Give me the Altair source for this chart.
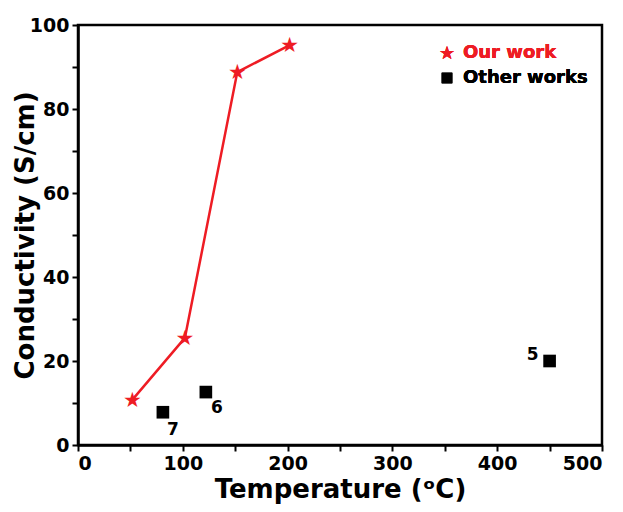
import altair as alt
import pandas as pd

our_temp = [52, 102, 152, 202]
our_cond = [10.8, 25.5, 88.8, 95.2]
other_temp = [81, 122, 450]
other_cond = [7.8, 12.6, 20.0]
other_ref = ["7", "6", "5"]
legend_labels = ["Our work", "Other works"]

RED = "#ee1c24"
FONT = "DejaVu Sans"

our = pd.DataFrame({"t": our_temp, "c": our_cond})
oth = pd.DataFrame({"t": other_temp, "c": other_cond, "ref": other_ref})

xs = alt.Scale(domain=[0, 500], nice=False)
ys = alt.Scale(domain=[0, 100], nice=False)

xax = alt.Axis(values=[0, 50, 100, 150, 200, 250, 300, 350, 400, 450, 500],
               labelExpr="datum.value % 100 == 0 ? datum.label : ''",
               title="Temperature (ᵒC)", grid=False, titlePadding=3)
yax = alt.Axis(values=[0, 10, 20, 30, 40, 50, 60, 70, 80, 90, 100],
               labelExpr="datum.value % 20 == 0 ? datum.label : ''",
               title="Conductivity (S/cm)", grid=False, titleFontSize=26, titleX=-40)

X = alt.X("t:Q", scale=xs, axis=xax)
Y = alt.Y("c:Q", scale=ys, axis=yax)

line = alt.Chart(our).mark_line(color=RED, strokeWidth=2.5).encode(x=X, y=Y)

stars = alt.Chart(our).mark_text(text="★", font=FONT, fontSize=21, color=RED,
                                 align="center", baseline="middle", dy=1).encode(x=X, y=Y)

squares = alt.Chart(oth).mark_square(color="black", size=160, opacity=1).encode(x=X, y=Y)

def lab(r, dx, dy):
    return alt.Chart(oth).transform_filter(alt.datum.ref == r).mark_text(
        font=FONT, fontSize=17, fontWeight="bold", color="black", dx=dx, dy=dy).encode(
        x=X, y=Y, text="ref:N")

leg_star = alt.Chart(our).mark_text(text="★", font=FONT, fontSize=18, color=RED,
                                    align="center", baseline="middle").encode(
    x=alt.value(369), y=alt.value(29))
leg_t1 = alt.Chart(our).mark_text(text=legend_labels[0], font=FONT, fontSize=18, fontWeight="bold",
                                  color=RED, align="left", baseline="middle").encode(
    x=alt.value(385), y=alt.value(28))
leg_sq = alt.Chart(our).mark_square(color="black", size=110, opacity=1).encode(
    x=alt.value(369), y=alt.value(53))
leg_t2 = alt.Chart(our).mark_text(text=legend_labels[1], font=FONT, fontSize=18, fontWeight="bold",
                                  color="black", align="left", baseline="middle").encode(
    x=alt.value(385), y=alt.value(53))

chart = alt.layer(
    line, stars, squares, lab("7", 10, 18), lab("6", 11, 16), lab("5", -17, -6),
    leg_star, leg_t1, leg_sq, leg_t2,
).properties(
    width=524, height=420, autosize="none",
    padding={"left": 70, "top": 17, "right": 10, "bottom": 59},
).configure_view(stroke="black", strokeWidth=2.5).configure_axis(
    domainColor="black", domainWidth=2.5, tickColor="black", tickWidth=2, tickSize=6,
    labelFont=FONT, labelFontSize=19, labelFontWeight="bold", labelColor="black", labelPadding=3,
    titleFont=FONT, titleFontSize=26, titleFontWeight="bold", titleColor="black",
)

chart.save("out.html", embed_options={"renderer": "svg", "actions": False})
